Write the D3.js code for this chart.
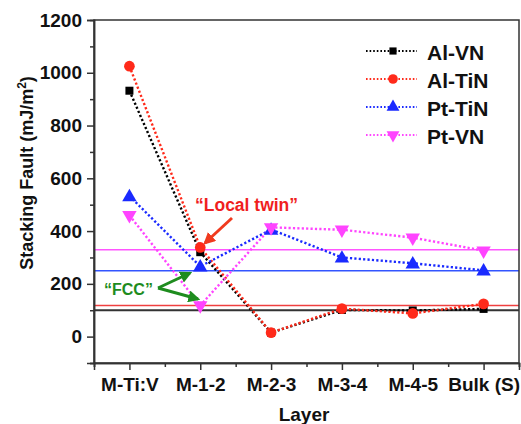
<!DOCTYPE html>
<html><head><meta charset="utf-8">
<script src="https://cdn.jsdelivr.net/npm/d3@7"></script>
<style>body{margin:0;background:#fff}svg{display:block;font-family:"Liberation Sans",Arial,sans-serif;font-weight:bold}</style>
</head><body><svg id="c" width="521" height="424"></svg>
<script>
const categories = ["M-Ti:V","M-1-2","M-2-3","M-3-4","M-4-5","Bulk (S)"];
const seriesNames = ["Al-VN","Al-TiN","Pt-TiN","Pt-VN"];
const alVN  = [932, 320, 15, 101, 99, 105];
const alTiN = [1025, 338, 15, 106, 88, 124];
const ptTiN = [533, 266, 406, 300, 278, 251];
const ptVN  = [460, 118, 414, 405, 375, 326];
const refLines = [100, 118, 250, 329];   // Al-VN, Al-TiN, Pt-TiN, Pt-VN reference (horizontal) lines
const yTicks = [0, 200, 400, 600, 800, 1000, 1200];
const yMinorTicks = [-100, 100, 300, 500, 700, 900, 1100];

const colors = ["#000000", "#ff2a1a", "#1a2aff", "#ff44ff"];
const refColors = ["#333333", "#f04040", "#3355ff", "#ff55ff"];
const symbols = [d3.symbolSquare, d3.symbolCircle, d3.symbolTriangle, d3.symbolTriangle];
const symSizes = [64, 90, 90, 90];
const rotations = [0, 0, 0, 180];
const data = [alVN, alTiN, ptTiN, ptVN];

const svg = d3.select("#c");
const L = 94, R = 519, T = 20, B = 363;
const x = d3.scaleLinear().domain([-0.5, 5.5]).range([L, R]);
const y = d3.scaleLinear().domain([-100, 1200]).range([B, T]);

// reference lines
refLines.forEach((v, i) => {
  svg.append("line").attr("x1", L).attr("x2", R).attr("y1", y(v)).attr("y2", y(v))
    .attr("stroke", refColors[i]).attr("stroke-width", i === 0 ? 2 : 1.5);
});

// frame
svg.append("rect").attr("x", L).attr("y", T).attr("width", R - L).attr("height", B - T)
  .attr("fill", "none").attr("stroke", "#333").attr("stroke-width", 1.5);

// axes
const yAxis = d3.axisLeft(y).tickValues(yTicks).tickSize(7).tickPadding(5).tickFormat(d3.format("d"));
const gy = svg.append("g").attr("transform", `translate(${L},0)`).call(yAxis);
const yMinor = d3.axisLeft(y).tickValues(yMinorTicks).tickSize(4).tickFormat("");
const gym = svg.append("g").attr("transform", `translate(${L},0)`).call(yMinor);
const xAxis = d3.axisBottom(x).tickValues(d3.range(categories.length)).tickSize(7).tickPadding(8)
  .tickFormat(i => categories[i]);
const gx = svg.append("g").attr("transform", `translate(0,${B})`).call(xAxis);
const xMinor = d3.axisBottom(x).tickValues(d3.range(categories.length + 1).map(i => i - 0.5)).tickSize(4).tickFormat("");
const gxm = svg.append("g").attr("transform", `translate(0,${B})`).call(xMinor);
[gy, gym, gx, gxm].forEach(g => {
  g.select(".domain").attr("stroke", "#333").attr("stroke-width", 1.5);
  g.selectAll(".tick line").attr("stroke", "#333").attr("stroke-width", 1.5);
  g.selectAll("text").attr("fill", "#111").style("font-size", "19px")
    .style("font-family", '"Liberation Sans",Arial,sans-serif').style("font-weight", "bold");
});

// series
const line = d3.line().x((d, i) => x(i)).y(d => y(d));
data.forEach((vals, s) => {
  svg.append("path").attr("d", line(vals)).attr("fill", "none")
    .attr("stroke", colors[s]).attr("stroke-width", 2.4).attr("stroke-dasharray", "2.2,2.2");
});
data.forEach((vals, s) => {
  svg.append("g").selectAll("path").data(vals).join("path")
    .attr("d", d3.symbol().type(symbols[s]).size(symSizes[s]))
    .attr("transform", (d, i) => `translate(${x(i)},${y(d) + (s === 2 ? 1 : 0)}) rotate(${rotations[s]})`)
    .attr("fill", colors[s]);
});

// legend
seriesNames.forEach((name, s) => {
  const cy = 51 + s * 28;
  svg.append("line").attr("x1", 366).attr("x2", 417).attr("y1", cy).attr("y2", cy)
    .attr("stroke", colors[s]).attr("stroke-width", 2).attr("stroke-dasharray", "1.6,2");
  svg.append("path").attr("d", d3.symbol().type(symbols[s]).size(symSizes[s] * 0.8))
    .attr("transform", `translate(393,${cy}) rotate(${rotations[s]})`).attr("fill", colors[s]);
  svg.append("text").attr("x", 427).attr("y", cy + 8.5).text(name)
    .style("font-size", "21px").attr("fill", "#111");
});

// axis titles
svg.append("text").attr("x", 304).attr("y", 421).attr("text-anchor", "middle")
  .style("font-size", "19px").attr("fill", "#111").text("Layer");
const yt = svg.append("text").attr("transform", "translate(33,173) rotate(-90)")
  .attr("text-anchor", "middle").style("font-size", "18px").attr("fill", "#111");
yt.append("tspan").text("Stacking Fault (mJ/m");
yt.append("tspan").text("2").attr("dy", -7).style("font-size", "12px");
yt.append("tspan").text(")").attr("dy", 7);

// annotations
const defs = svg.append("defs");
[["arR", "#f03a1e"], ["arG", "#1e8c1e"]].forEach(([id, c]) => {
  defs.append("marker").attr("id", id).attr("viewBox", "0 0 10 10").attr("refX", 8).attr("refY", 5)
    .attr("markerWidth", 4).attr("markerHeight", 4).attr("orient", "auto")
    .append("path").attr("d", "M0,0 L10,5 L0,10 z").attr("fill", c);
});
svg.append("text").attr("x", 195).attr("y", 211).style("font-size", "17.5px").attr("fill", "#f01e1e")
  .text("\u201CLocal twin\u201D");
svg.append("line").attr("x1", 232).attr("y1", 218).attr("x2", 205).attr("y2", 243)
  .attr("stroke", "#f03a1e").attr("stroke-width", 3).attr("marker-end", "url(#arR)");
svg.append("text").attr("x", 104).attr("y", 295).style("font-size", "16px").attr("fill", "#1e8c1e")
  .text("\u201CFCC\u201D");
svg.append("line").attr("x1", 158).attr("y1", 288).attr("x2", 190).attr("y2", 273)
  .attr("stroke", "#1e8c1e").attr("stroke-width", 3).attr("marker-end", "url(#arG)");
svg.append("line").attr("x1", 158).attr("y1", 288).attr("x2", 198).attr("y2", 299)
  .attr("stroke", "#1e8c1e").attr("stroke-width", 3).attr("marker-end", "url(#arG)");
</script></body></html>
